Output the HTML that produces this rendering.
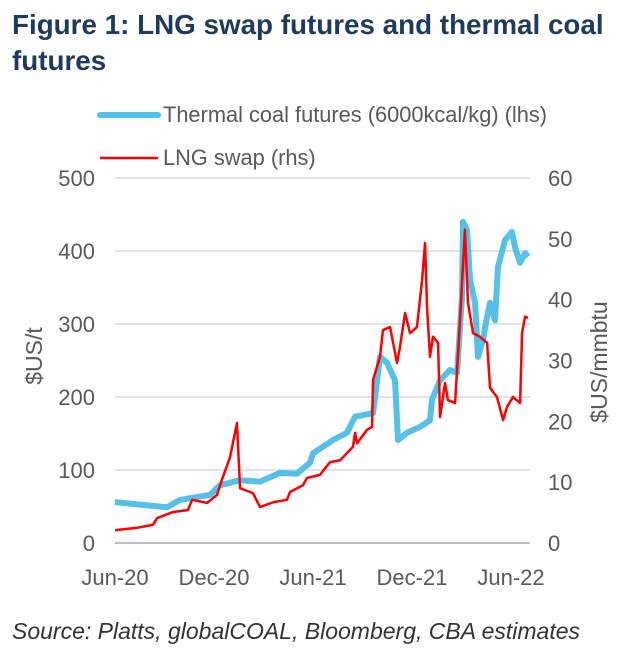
<!DOCTYPE html>
<html><head><meta charset="utf-8"><style>
body{margin:0;background:#fff;width:624px;height:665px;overflow:hidden;font-family:"Liberation Sans",sans-serif}
</style></head><body>
<svg width="624" height="665" style="position:absolute;left:0;top:0">
<text x="12" y="34" font-size="27.8" font-weight="bold" fill="#1f3a5f">Figure 1: LNG swap futures and thermal coal</text>
<text x="12" y="70" font-size="27.8" font-weight="bold" fill="#1f3a5f">futures</text>
<g>
<line x1="100" y1="115" x2="158" y2="115" stroke="#56c1e8" stroke-width="6" stroke-linecap="round"/>
<text x="163" y="122" font-size="21.8" fill="#595959">Thermal coal futures (6000kcal/kg) (lhs)</text>
<line x1="100" y1="158" x2="158" y2="158" stroke="#ff0000" stroke-width="2.5"/>
<text x="163" y="165" font-size="21.8" fill="#595959">LNG swap (rhs)</text>
</g>
<g id="grid"></g><g id="axes"></g><g id="series"></g>
<text transform="translate(42,356) rotate(-90)" text-anchor="middle" font-size="23" fill="#595959">$US/t</text>
<text transform="translate(607,362) rotate(-90)" text-anchor="middle" font-size="23" fill="#595959">$US/mmbtu</text>
<text x="12" y="639" font-size="23" font-style="italic" fill="#333">Source: Platts, globalCOAL, Bloomberg, CBA estimates</text>
</svg>
<script>
const leftTicks=[0,100,200,300,400,500];
const rightTicks=[0,10,20,30,40,50,60];
const xTickLabels=["Jun-20","Dec-20","Jun-21","Dec-21","Jun-22"];
const xTickMonths=[0,6,12,18,24];
const coalMonths=[0,3.15,3.94,5.76,6.36,7.58,8.79,10.0,11.03,11.82,12.0,13.21,14.06,14.55,15.64,16.06,16.48,16.97,17.15,17.7,18.48,19.09,19.21,19.7,20.3,20.73,21.03,21.09,21.33,21.52,21.82,22.0,22.3,22.55,22.73,23.03,23.21,23.64,24.06,24.24,24.55,24.85,25.03];
const coalValues=[56,49,59,66,79,86,84,96,95,110,123,141,151,173,178,255,247,223,141,151,159,168,196,223,237,233,337,440,429,360,329,255,278,310,329,305,378,415,426,405,384,397,392];
const lngMonths=[0,1.33,2.3,2.55,3.52,4.42,4.67,5.58,6.18,6.48,6.97,7.39,7.58,8.36,8.79,9.58,10.42,10.61,11.39,11.64,12.42,13.03,13.64,14.42,14.55,14.67,15.27,15.58,15.64,16.06,16.24,16.67,17.09,17.27,17.58,17.88,18.3,18.61,18.79,18.91,19.09,19.27,19.58,19.7,20.0,20.18,20.61,20.91,21.21,21.39,21.7,22.12,22.55,22.73,23.15,23.52,23.76,24.12,24.55,24.67,24.85,25.03];
const lngValues=[2.1,2.5,3.0,4.1,5.1,5.4,7.1,6.6,7.9,10.4,14.1,19.7,9.0,8.2,5.9,6.7,7.1,8.4,9.5,10.7,11.2,13.3,13.6,15.8,18.1,16.4,18.6,19.1,26.8,30.6,35.0,35.5,29.6,32.2,37.8,34.5,35.5,43.2,49.3,38.8,30.6,33.9,32.9,20.7,26.3,23.5,23.0,36.7,51.5,39.5,34.5,33.9,32.9,25.5,24.0,20.2,22.4,24.0,23.0,34.5,37.2,37.0];
const X0=115,X1=530,Y0=543,Y1=178;
const xS=m=>X0+m*16.5;
const yL=v=>Y0-(v/500)*(Y0-Y1);
const yR=v=>Y0-(v/60)*(Y0-Y1);
const NS="http://www.w3.org/2000/svg";
function mk(t,a,p){const e=document.createElementNS(NS,t);for(const k in a)e.setAttribute(k,a[k]);p.appendChild(e);return e;}
const grid=document.getElementById('grid'),axes=document.getElementById('axes'),ser=document.getElementById('series');
leftTicks.forEach(v=>{
 const g=mk('line',{x1:X0,x2:X1,y1:yL(v),y2:yL(v),stroke:v===0?'#bfbfbf':'#e3e3e3','stroke-width':2},grid);
 
 
 const t=mk('text',{x:95,y:yL(v)+8,'text-anchor':'end','font-size':22,fill:'#595959'},axes);
 t.textContent=v;
 
 
});
rightTicks.forEach(v=>{
 const t=mk('text',{x:548,y:yR(v)+8,'font-size':22,fill:'#595959'},axes);
 t.textContent=v;
 
 
});
xTickLabels.forEach((l,i)=>{
 const t=mk('text',{x:xS(xTickMonths[i]),y:585,'text-anchor':'middle','font-size':22,fill:'#595959'},axes);
 t.textContent=l;
 
 
});
const cp=mk('polyline',{points:coalMonths.map((m,i)=>xS(m)+','+yL(coalValues[i])).join(' '),fill:'none',stroke:'#56c1e8','stroke-width':6,'stroke-linejoin':'round'},ser);


const lp=mk('polyline',{points:lngMonths.map((m,i)=>xS(m)+','+yR(lngValues[i])).join(' '),fill:'none',stroke:'#ff0000','stroke-width':2.5,'stroke-linejoin':'round'},ser);


</script>
</body></html>
